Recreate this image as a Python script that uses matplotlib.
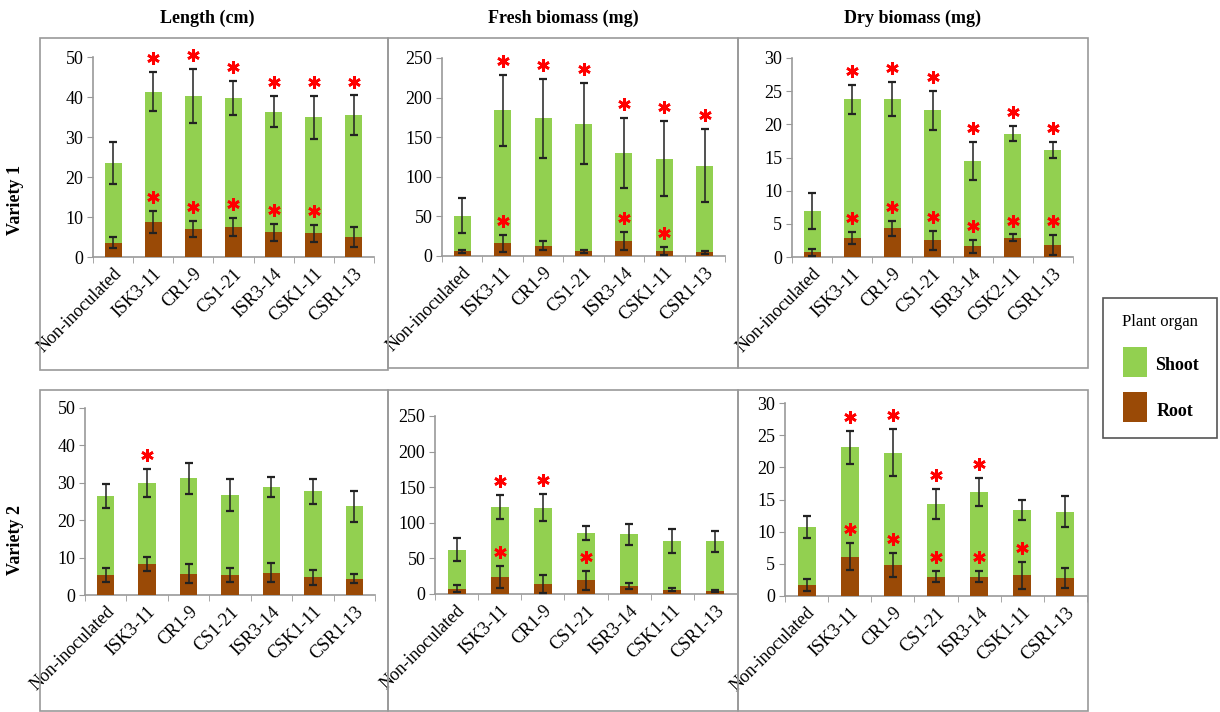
import matplotlib
matplotlib.use('Agg')
import matplotlib.pyplot as plt
import matplotlib.transforms as mtransforms
from matplotlib.patches import Rectangle
import numpy as np

plt.rcParams['font.family'] = ['Liberation Serif', 'DejaVu Serif']

# strain names (dry biomass of variety 1 has CSK2-11)
strains = ['Non-inoculated', 'ISK3-11', 'CR1-9', 'CS1-21', 'ISR3-14', 'CSK1-11', 'CSR1-13']
strains_dry1 = ['Non-inoculated', 'ISK3-11', 'CR1-9', 'CS1-21', 'ISR3-14', 'CSK2-11', 'CSR1-13']

# Variety 1 - length (cm)
len1_total = [23.5, 41.3, 40.3, 39.7, 36.3, 34.9, 35.4]
len1_total_err = [5.2, 4.9, 6.8, 4.3, 3.9, 5.3, 5.0]
len1_root = [3.6, 8.7, 7.0, 7.5, 6.2, 5.9, 5.0]
len1_root_err = [1.4, 2.8, 2.1, 2.3, 2.1, 2.2, 2.5]
len1_sig_shoot = [0, 1, 1, 1, 1, 1, 1]
len1_sig_root = [0, 1, 1, 1, 1, 1, 0]

# Variety 1 - fresh biomass (mg)
fresh1_total = [51, 184, 174, 167, 130, 123, 114]
fresh1_total_err = [22, 45, 50, 51, 44, 47, 46]
fresh1_root = [6, 16, 13, 6, 19, 6, 4.5]
fresh1_root_err = [2, 11, 6, 2, 11, 5, 2]
fresh1_sig_shoot = [0, 1, 1, 1, 1, 1, 1]
fresh1_sig_root = [0, 1, 0, 0, 1, 1, 0]

# Variety 1 - dry biomass (mg)
dry1_total = [6.9, 23.8, 23.8, 22.1, 14.5, 18.6, 16.2]
dry1_total_err = [2.7, 2.2, 2.6, 3.0, 2.9, 1.1, 1.2]
dry1_root = [0.7, 2.9, 4.3, 2.5, 1.6, 2.9, 1.8]
dry1_root_err = [0.5, 0.9, 1.1, 1.4, 1.0, 0.5, 1.5]
dry1_sig_shoot = [0, 1, 1, 1, 1, 1, 1]
dry1_sig_root = [0, 1, 1, 1, 1, 1, 1]

# Variety 2 - length (cm)
len2_total = [26.5, 30.0, 31.2, 26.8, 28.8, 27.7, 23.7]
len2_total_err = [3.2, 3.8, 4.1, 4.3, 2.7, 3.4, 4.2]
len2_root = [5.3, 8.3, 5.7, 5.3, 6.0, 4.8, 4.4]
len2_root_err = [1.8, 1.8, 2.6, 1.8, 2.6, 2.0, 1.2]
len2_sig_shoot = [0, 1, 0, 0, 0, 0, 0]
len2_sig_root = [0, 0, 0, 0, 0, 0, 0]

# Variety 2 - fresh biomass (mg)
fresh2_total = [62, 122, 121, 86, 84, 74, 74]
fresh2_total_err = [16, 17, 19, 10, 15, 17, 15]
fresh2_root = [7.5, 23.5, 14, 19, 11, 6, 4.5]
fresh2_root_err = [4.5, 15.5, 12.5, 13, 4, 2, 1.5]
fresh2_sig_shoot = [0, 1, 1, 0, 0, 0, 0]
fresh2_sig_root = [0, 1, 0, 1, 0, 0, 0]

# Variety 2 - dry biomass (mg)
dry2_total = [10.7, 23.1, 22.3, 14.3, 16.2, 13.4, 13.1]
dry2_total_err = [1.7, 2.6, 3.7, 2.4, 2.2, 1.6, 2.4]
dry2_root = [1.7, 6.1, 4.8, 3.0, 3.0, 3.2, 2.8]
dry2_root_err = [1.0, 2.1, 1.9, 0.9, 0.9, 2.1, 1.6]
dry2_sig_shoot = [0, 1, 1, 1, 1, 0, 0]
dry2_sig_root = [0, 1, 1, 1, 1, 1, 0]

SHOOT = '#92D050'
ROOT = '#9A4A06'
W, H = 1220, 712

fig = plt.figure(figsize=(W / 100, H / 100), dpi=100)
fig.patch.set_facecolor('white')


def px_rect(x0, y0, x1, y1):
    # pixel box (top-left origin) -> figure fraction
    return [x0 / W, 1 - y1 / H, (x1 - x0) / W, (y1 - y0) / H]


def panel(rect, labels, total, total_err, root, root_err, sig_s, sig_r, ymax, step):
    ax = fig.add_axes(px_rect(*rect))
    x = np.arange(len(labels))
    ax.bar(x, total, width=0.42, color=SHOOT, zorder=2)
    ax.bar(x, root, width=0.42, color=ROOT, zorder=3)
    ekw = dict(fmt='none', ecolor='#222222', elinewidth=1.1, capsize=3, capthick=1.6, zorder=4)
    ax.errorbar(x, total, yerr=total_err, **ekw)
    ax.errorbar(x, root, yerr=root_err, **ekw)

    # significance stars a little above the error bars
    star_tr = mtransforms.offset_copy(ax.transData, fig=fig, y=10, units='points')
    t = np.array(total) + np.array(total_err)
    r = np.array(root) + np.array(root_err)
    s = np.array(sig_s, dtype=bool)
    q = np.array(sig_r, dtype=bool)
    skw = dict(linestyle='none', marker=(6, 2, 0), markersize=9, mew=1.9, color='red',
               transform=star_tr, zorder=5, clip_on=False)
    ax.plot(x[s], t[s], **skw)
    ax.plot(x[q], r[q], **skw)

    ax.set_xlim(-0.5, len(labels) - 0.5)
    ax.set_ylim(0, ymax)
    ax.set_yticks(np.arange(0, ymax + 1, step))
    ax.set_xticks(x)
    ax.set_xticklabels(labels, rotation=45, ha='right', rotation_mode='anchor', fontsize=13)
    ax.set_xticks(np.arange(len(labels) + 1) - 0.5, minor=True)
    ax.tick_params(axis='x', which='major', length=0, pad=6)
    ax.tick_params(axis='x', which='minor', length=4, color='#999999')
    ax.tick_params(axis='y', length=4, color='#999999', labelsize=13, pad=3)
    for side in ['top', 'right']:
        ax.spines[side].set_visible(False)
    for side in ['left', 'bottom']:
        ax.spines[side].set_color('#999999')
        ax.spines[side].set_linewidth(1.2)
    ax.set_facecolor('none')
    return ax


panel((93, 57, 374, 257), strains, len1_total, len1_total_err, len1_root, len1_root_err,
      len1_sig_shoot, len1_sig_root, 50, 10)
panel((442, 58, 725, 256), strains, fresh1_total, fresh1_total_err, fresh1_root, fresh1_root_err,
      fresh1_sig_shoot, fresh1_sig_root, 250, 50)
panel((792, 58, 1073, 257), strains_dry1, dry1_total, dry1_total_err, dry1_root, dry1_root_err,
      dry1_sig_shoot, dry1_sig_root, 30, 5)
panel((85, 408, 375, 595), strains, len2_total, len2_total_err, len2_root, len2_root_err,
      len2_sig_shoot, len2_sig_root, 50, 10)
panel((435, 416, 737, 594), strains, fresh2_total, fresh2_total_err, fresh2_root, fresh2_root_err,
      fresh2_sig_shoot, fresh2_sig_root, 250, 50)
panel((785, 403, 1087, 596), strains, dry2_total, dry2_total_err, dry2_root, dry2_root_err,
      dry2_sig_shoot, dry2_sig_root, 30, 5)

# frames around each panel
for (x0, y0, x1, y1) in [(40, 38, 388, 370), (388, 38, 738, 368), (738, 38, 1088, 368),
                         (40, 390, 388, 711), (388, 390, 738, 711), (738, 390, 1088, 711)]:
    fig.add_artist(Rectangle((x0 / W, 1 - y1 / H), (x1 - x0) / W, (y1 - y0) / H,
                             transform=fig.transFigure, fill=False, edgecolor='#999999', lw=1.2))

# column and row titles
for xc, txt in [(207, 'Length (cm)'), (563, 'Fresh biomass (mg)'), (912, 'Dry biomass (mg)')]:
    fig.text(xc / W, 1 - 18 / H, txt, ha='center', va='center', fontsize=13, fontweight='bold')
fig.text(16 / W, 1 - 200 / H, 'Variety 1', rotation=90, ha='center', va='center',
         fontsize=13, fontweight='bold')
fig.text(16 / W, 1 - 540 / H, 'Variety 2', rotation=90, ha='center', va='center',
         fontsize=13, fontweight='bold')

# legend box
fig.add_artist(Rectangle((1103 / W, 1 - 438 / H), 114 / W, 140 / H, transform=fig.transFigure,
                         fill=False, edgecolor='#555555', lw=1.2))
fig.text(1160 / W, 1 - 322 / H, 'Plant organ', ha='center', va='center', fontsize=12)
fig.add_artist(Rectangle((1123 / W, 1 - 377 / H), 24 / W, 30 / H, transform=fig.transFigure,
                         facecolor=SHOOT, edgecolor='none'))
fig.add_artist(Rectangle((1123 / W, 1 - 422 / H), 24 / W, 30 / H, transform=fig.transFigure,
                         facecolor=ROOT, edgecolor='none'))
fig.text(1155 / W, 1 - 366 / H, 'Shoot', ha='left', va='center', fontsize=13, fontweight='bold')
fig.text(1157 / W, 1 - 411 / H, 'Root', ha='left', va='center', fontsize=13, fontweight='bold')

fig.savefig('out.png', dpi=100, facecolor='white')
